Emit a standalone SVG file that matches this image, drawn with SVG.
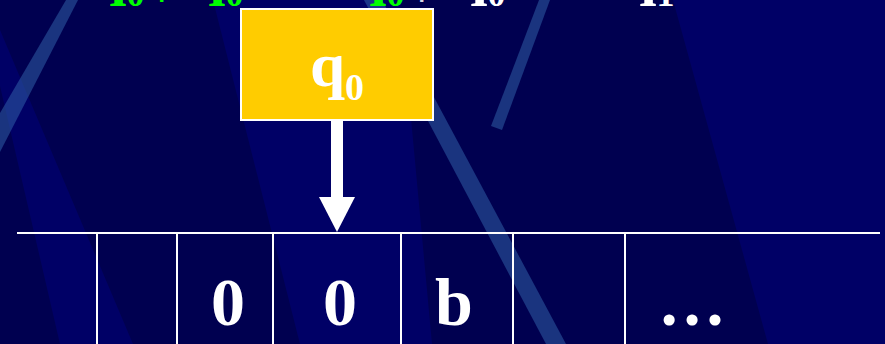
<svg xmlns="http://www.w3.org/2000/svg" width="885" height="344" viewBox="0 0 885 344">
  <style>
    .bg { fill: #000050; }
    .band { fill: #000066; }
    .streak { fill: #3467ad; opacity: 0.5; }
    .serif { font-family: "Liberation Serif", "Times New Roman", serif; font-weight: bold; }
    .green { fill: #00ff00; }
    .white { fill: #ffffff; }
    .cell { font-family: "Liberation Serif", "Times New Roman", serif; font-weight: bold; font-size: 68px; fill: #ffffff; text-anchor: middle; }
    .tape { stroke: #ffffff; stroke-width: 2; fill: none; }
    .mark { font-family: "DejaVu Serif", serif; font-weight: bold; font-size: 30px; }
  </style>
  <g id="background">
    <rect class="bg" x="0" y="0" width="885" height="344"/>
    <polygon class="band" points="673,0 885,0 885,344 768,344"/>
    <polygon class="band" points="213,0 400,0 432,344 300,344"/>
    <polygon class="band" points="-20,0 0,30 133,344 60,344"/>
    <polygon class="streak" points="66,0 78,0 0,152 0,113"/>
    <polygon class="streak" points="364,0 382,0 566,344 546,344"/>
    <polygon class="streak" points="539,0 550,0 502,130 491,126"/>
  </g>
  <g id="top-text">
    <text class="serif green" x="93" y="-7" font-size="60">q<tspan font-size="36" dy="13">0</tspan></text>
    <text class="mark green" x="157" y="2">⊢</text>
    <text class="serif green" x="192" y="-7" font-size="60">q<tspan font-size="36" dy="13">0</tspan></text>
    <text class="serif green" x="353" y="-7" font-size="60">q<tspan font-size="36" dy="13">0</tspan></text>
    <text class="mark white" x="417" y="2" fill-opacity="0.85">⊢</text>
    <text class="serif white" x="454" y="-7" font-size="60">q<tspan font-size="36" dy="13">0</tspan></text>
    <text class="serif white" x="623" y="-7" font-size="60">q<tspan font-size="36" dy="13">1</tspan></text>
  </g>
  <g id="head">
    <rect x="241" y="9" width="192" height="111" fill="#ffcc00" stroke="#ffffff" stroke-width="2"/>
    <text class="serif white" x="310" y="86" font-size="63">q<tspan font-size="38" dy="14">0</tspan></text>
  </g>
  <g id="connectors">
    <rect x="331" y="121" width="12" height="78" fill="#ffffff"/>
    <polygon points="319,197 355,197 337,232" fill="#ffffff"/>
  </g>
  <g id="tape">
    <line class="tape" x1="17" y1="233" x2="880" y2="233"/>
    <line class="tape" x1="97" y1="233" x2="97" y2="344"/>
    <line class="tape" x1="177" y1="233" x2="177" y2="344"/>
    <line class="tape" x1="273" y1="233" x2="273" y2="344"/>
    <line class="tape" x1="401" y1="233" x2="401" y2="344"/>
    <line class="tape" x1="513" y1="233" x2="513" y2="344"/>
    <line class="tape" x1="625" y1="233" x2="625" y2="344"/>
  </g>
  <g id="cell-3"><text class="cell" x="228" y="325">0</text></g>
  <g id="cell-4"><text class="cell" x="340" y="325">0</text></g>
  <g id="cell-5"><text class="cell" x="454" y="325">b</text></g>
  <g id="cell-7"><text class="cell" x="692" y="325">…</text></g>
</svg>
